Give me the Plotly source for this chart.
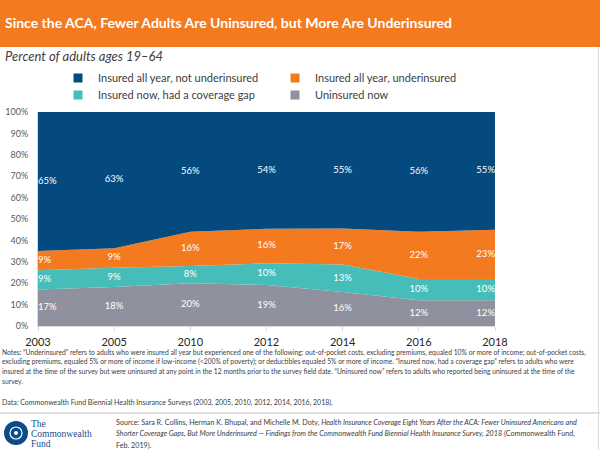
import plotly.graph_objects as go

years = ["2003", "2005", "2010", "2012", "2014", "2016", "2018"]
uninsured_now = [17, 18, 20, 19, 16, 12, 12]
coverage_gap = [9, 9, 8, 10, 13, 10, 10]
underinsured = [9, 9, 16, 16, 17, 22, 23]
not_underinsured = [65, 63, 56, 54, 55, 56, 55]

series = [
    ("Uninsured now", uninsured_now, "#8F929E"),
    ("Insured now, had a coverage gap", coverage_gap, "#47BDB9"),
    ("Insured all year, underinsured", underinsured, "#F47A20"),
    ("Insured all year, not underinsured", not_underinsured, "#044A7E"),
]

W, H = 600, 450
L, R, T, B = 38, 495, 112, 326


def px(x):
    return (x - L) / (R - L)


def py(y):
    return (B - y) / (B - T)


FONT = "Lato"
fig = go.Figure()

# stacked areas
for name, vals, col in series:
    fig.add_trace(go.Scatter(
        x=years, y=vals, name=name, mode="lines", stackgroup="one",
        groupnorm="percent", line=dict(width=0, color=col), fillcolor=col,
        showlegend=False, hoverinfo="skip"))

# data labels at the middle of each band (normalised like the areas)
totals = [sum(s[1][i] for s in series) for i in range(len(years))]
base = [0.0] * len(years)
npts = len(years)
positions = ["middle right"] + ["middle center"] * (npts - 2) + ["middle left"]
for name, vals, col in series:
    mids = []
    for i, v in enumerate(vals):
        h = v * 100.0 / totals[i]
        mids.append(base[i] + h / 2)
        base[i] += h
    fig.add_trace(go.Scatter(
        x=years, y=mids, mode="text", text=[f"{v}%" for v in vals],
        textposition=positions, textfont=dict(color="white", size=9.5, family=FONT),
        showlegend=False, hoverinfo="skip", cliponaxis=False))

# legend entries (two rows)
legend_rows = {
    "legend": ["Insured all year, not underinsured", "Insured all year, underinsured"],
    "legend2": ["Insured now, had a coverage gap", "Uninsured now"],
}
colors = {n: c for n, _, c in series}
for lg, names in legend_rows.items():
    for n in names:
        fig.add_trace(go.Scatter(
            x=[None], y=[None], mode="markers", name=n, legend=lg,
            marker=dict(symbol="square", size=9, color=colors[n]),
            showlegend=True))

legend_common = dict(orientation="h", xanchor="left", yanchor="middle",
                     traceorder="normal",
                     entrywidth=172, entrywidthmode="pixels",
                     font=dict(family=FONT, size=11, color="#404040"),
                     bgcolor="rgba(0,0,0,0)", itemclick=False, itemdoubleclick=False)

notes_lines = [
    "Notes: “Underinsured” refers to adults who were insured all year but experienced one of the following: out-of-pocket costs, excluding premiums, equaled 10% or more of income; out-of-pocket costs,",
    "excluding premiums, equaled 5% or more of income if low-income (&lt;200% of poverty); or deductibles equaled 5% or more of income. “Insured now, had a coverage gap” refers to adults who were",
    "insured at the time of the survey but were uninsured at any point in the 12 months prior to the survey field date. “Uninsured now” refers to adults who reported being uninsured at the time of the",
    "survey.",
]
data_line = "Data: Commonwealth Fund Biennial Health Insurance Surveys (2003, 2005, 2010, 2012, 2014, 2016, 2018)."
source_lines = [
    "Source: Sara R. Collins, Herman K. Bhupal, and Michelle M. Doty, <i>Health Insurance Coverage Eight Years After the ACA: Fewer Uninsured Americans and</i>",
    "<i>Shorter Coverage Gaps, But More Underinsured — Findings from the Commonwealth Fund Biennial Health Insurance Survey, 2018</i> (Commonwealth Fund,",
    "Feb. 2019).",
]
logo_lines = ["The", "Commonwealth", "Fund"]


def note(x, y, text, size, color="#404040", family=FONT):
    return dict(x=px(x), y=py(y), xref="paper", yref="paper", xanchor="left",
                yanchor="middle", text=text, showarrow=False, align="left",
                font=dict(family=family, size=size, color=color))


annotations = [
    note(3, 23, "<b>Since the ACA, Fewer Adults Are Uninsured, but More Are Underinsured</b>",
         14, color="white"),
    note(3, 56, "<i>Percent of adults ages 19–64</i>", 13),
]
for i, t in enumerate(notes_lines):
    annotations.append(note(0, 352 + i * 9.5, t, 6.75))
annotations.append(note(0, 402, data_line, 7))
for i, t in enumerate(source_lines):
    annotations.append(note(114, 422 + i * 11.5, t, 7.2))
for i, t in enumerate(logo_lines):
    annotations.append(note(29, 424 + i * 10, t, 9.5, color="#1B4F8E",
                            family="Liberation Serif"))

shapes = [
    dict(type="rect", xref="paper", yref="paper", x0=px(0), x1=px(600), y0=py(0), y1=py(47),
         fillcolor="#F47A20", line=dict(width=0), layer="below"),
    dict(type="line", xref="paper", yref="paper", x0=px(0), x1=px(600), y0=py(413), y1=py(413),
         line=dict(color="#BFBFBF", width=1)),
    dict(type="line", xref="paper", yref="paper", x0=px(598.5), x1=px(598.5), y0=py(47), y1=py(450),
         line=dict(color="#D9D9D9", width=1)),
    dict(type="circle", xref="paper", yref="paper", x0=px(4), x1=px(28), y0=py(421), y1=py(445),
         fillcolor="#0B4A8B", line=dict(width=0)),
    dict(type="circle", xref="paper", yref="paper", x0=px(10), x1=px(22), y0=py(427), y1=py(439),
         fillcolor="rgba(0,0,0,0)", line=dict(color="white", width=1.2)),
    dict(type="circle", xref="paper", yref="paper", x0=px(14), x1=px(18), y0=py(431), y1=py(435),
         fillcolor="white", line=dict(width=0)),
]

fig.update_layout(
    width=W, height=H,
    margin=dict(l=L, r=W - R, t=T, b=H - B, pad=0, autoexpand=False),
    paper_bgcolor="white", plot_bgcolor="white",
    font=dict(family=FONT, color="#404040"),
    showlegend=True,
    legend=dict(x=px(58), y=py(78), **legend_common),
    legend2=dict(x=px(58), y=py(95), **legend_common),
    xaxis=dict(type="category", range=[0, len(years) - 1], showgrid=False,
               showline=True, linecolor="#D9D9D9", linewidth=1,
               ticks="outside", ticklen=4, tickcolor="#D9D9D9",
               tickfont=dict(family=FONT, size=11, color="#262626"),
               ticklabelstandoff=2, fixedrange=True, automargin=False),
    yaxis=dict(range=[0, 100], dtick=10, ticksuffix="%", showgrid=False,
               showline=True, linecolor="#D9D9D9", linewidth=1, ticks="",
               tickfont=dict(family=FONT, size=9, color="#595959"),
               ticklabelstandoff=7, zeroline=False, fixedrange=True, automargin=False),
    annotations=annotations,
    shapes=shapes,
)

fig.write_html("out.html", config={"displayModeBar": False},
               post_script="document.body.style.margin='0';document.body.style.padding='0';")
